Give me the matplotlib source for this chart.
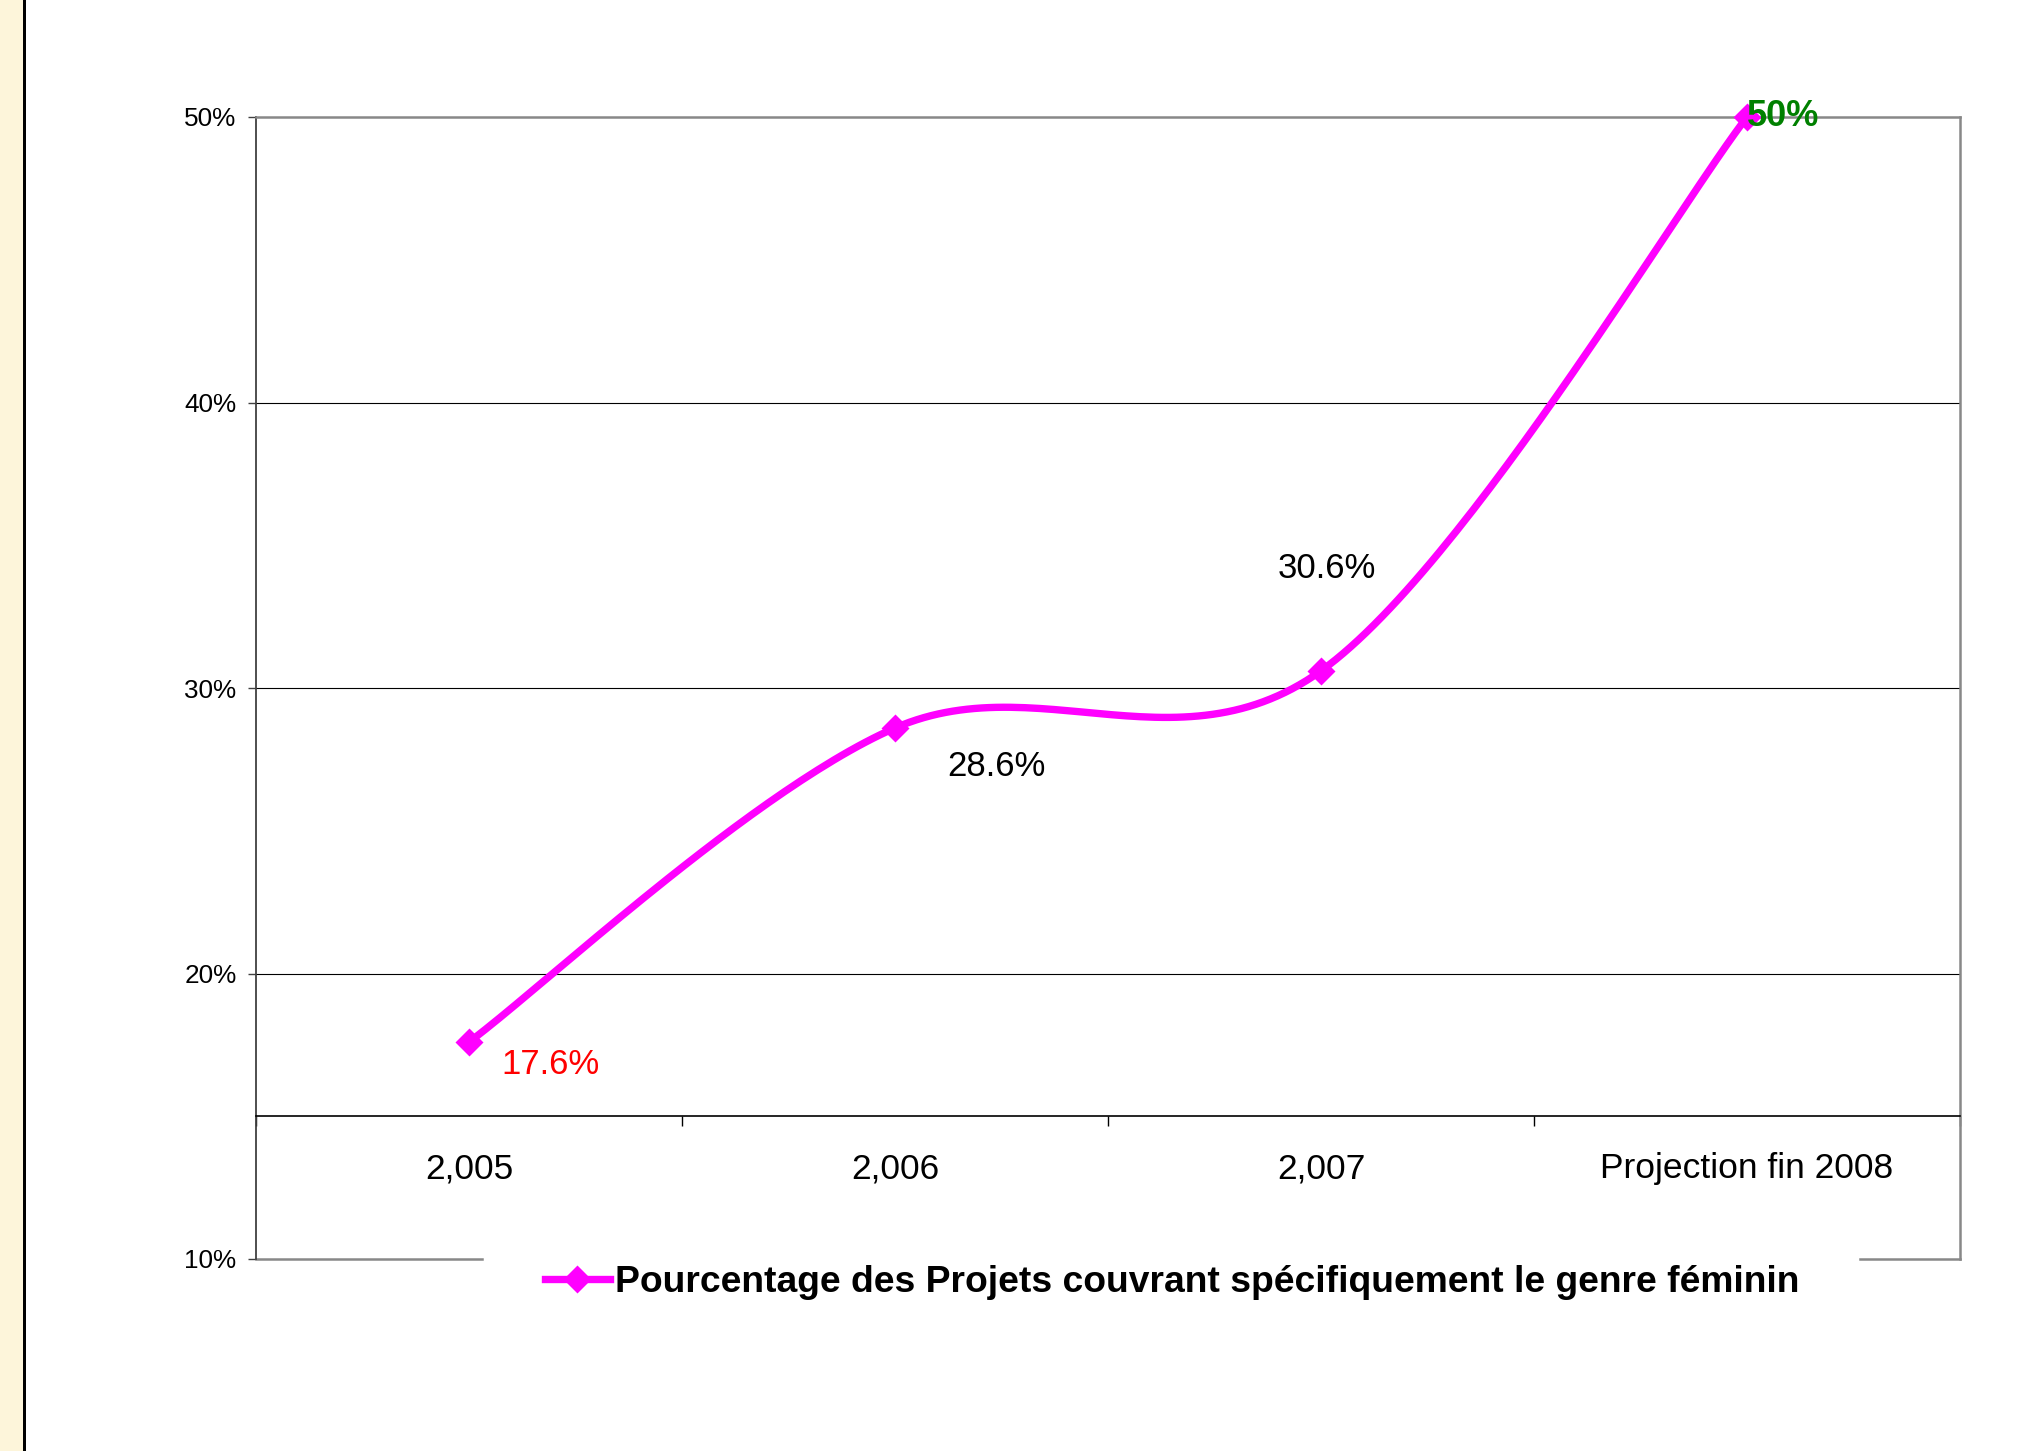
import numpy as np
import matplotlib
matplotlib.use("Agg")
import matplotlib.pyplot as plt
from matplotlib.lines import Line2D
from matplotlib.patches import Rectangle

plt.rcParams['font.family'] = ['Liberation Sans', 'DejaVu Sans']

# données
categories = ["2,005", "2,006", "2,007", "Projection fin 2008"]
valeurs = [17.6, 28.6, 30.6, 50.0]
etiquettes = ["17.6%", "28.6%", "30.6%", "50%"]
couleurs_etiq = ["#FF0000", "#000000", "#000000", "#008000"]
yticks = [10, 20, 30, 40, 50]
serie = "Pourcentage des Projets couvrant spécifiquement le genre féminin"


def lissage(xs, ys, n=60):
    # courbe lissée façon Excel (Bezier de Catmull-Rom)
    pts = np.column_stack([xs, ys]).astype(float)
    out = []
    for i in range(len(pts) - 1):
        p0 = pts[i - 1] if i > 0 else pts[i]
        p1, p2 = pts[i], pts[i + 1]
        p3 = pts[i + 2] if i + 2 < len(pts) else pts[i + 1]
        c1 = p1 + (p2 - p0) / 6
        c2 = p2 - (p3 - p1) / 6
        t = np.linspace(0, 1, n)[:, None]
        seg = (1 - t) ** 3 * p1 + 3 * (1 - t) ** 2 * t * c1 + 3 * (1 - t) * t ** 2 * c2 + t ** 3 * p2
        out.append(seg if i == 0 else seg[1:])
    return np.vstack(out)


def main():
    W, H = 2039, 1451
    fig = plt.figure(figsize=(W / 100, H / 100), dpi=100)
    fig.patch.set_facecolor("white")

    # bande crème à gauche
    fig.patches.append(Rectangle((0, 0), 23 / W, 1, transform=fig.transFigure,
                                 facecolor="#FDF5DA", edgecolor="none"))
    fig.patches.append(Rectangle((23 / W, 0), 2.5 / W, 1, transform=fig.transFigure,
                                 facecolor="black", edgecolor="none"))

    ax = fig.add_axes([256 / W, 1 - 1259 / H, (1960 - 256) / W, (1259 - 117) / H])
    x = np.arange(len(categories))
    ax.set_xlim(-0.5, len(categories) - 0.5)
    ax.set_ylim(10, 50)

    # grille
    for g in [20, 30, 40]:
        ax.axhline(g, color="black", lw=0.8, zorder=1)

    # bordures
    ax.spines['left'].set_color("#404040")
    ax.spines['left'].set_linewidth(1.3)
    ax.spines['top'].set_color("#888888")
    ax.spines['top'].set_linewidth(1.8)
    ax.spines['right'].set_color("#888888")
    ax.spines['right'].set_linewidth(1.8)
    # axe des x croisant à 15%
    ax.spines['bottom'].set_position(('data', 15))
    ax.spines['bottom'].set_color("black")
    ax.spines['bottom'].set_linewidth(1.2)
    # bordure basse grise interrompue par la légende
    ax.axhline(10, xmin=0, xmax=0.1326, color="#888888", lw=1.8, clip_on=False)
    ax.axhline(10, xmin=0.9413, xmax=1, color="#888888", lw=1.8, clip_on=False)

    ax.set_yticks(yticks)
    ax.set_yticklabels(["%d%%" % v for v in yticks], fontsize=18.8)
    ax.tick_params(axis='y', direction='out', length=6, width=1, color="#404040", pad=8)

    ax.set_xticks(np.arange(len(categories) + 1) - 0.5)
    ax.set_xticklabels([])
    ax.tick_params(axis='x', which='major', direction='out', length=7, width=1, color="black")
    ax.set_xticks(x, minor=True)
    ax.set_xticklabels(categories, minor=True, fontsize=25.5)
    ax.tick_params(axis='x', which='minor', length=0, pad=26)

    courbe = lissage(x, valeurs)
    ax.plot(courbe[:, 0], courbe[:, 1], color="#FF00FF", lw=5.3, solid_capstyle='round',
            zorder=3, clip_on=False)
    ax.plot(x, valeurs, ls="none", marker="D", ms=14.5, mec="none", color="#FF00FF",
            zorder=4, clip_on=False)

    # étiquettes de données
    decal = [(59, -16, 'center'), (73, -28, 'center'), (4, 74, 'center'), (0, 0, 'left')]
    for xi, v, lab, c, (dx, dy, ha) in zip(x, valeurs, etiquettes, couleurs_etiq, decal):
        ax.annotate(lab, (xi, v), xytext=(dx, dy), textcoords="offset points",
                    ha=ha, va="center", fontsize=26 if c == "#008000" else 25,
                    color=c, fontweight="bold" if c == "#008000" else "normal", zorder=5)

    h = Line2D([], [], color="#FF00FF", lw=5.3, marker="D", ms=14.5, mec="none")
    ax.legend([h], [serie], loc="center", bbox_to_anchor=(0.5376, -0.0205),
              frameon=False, handlelength=1.75, handletextpad=0.15,
              prop={'size': 26.8, 'weight': 'bold'})

    fig.savefig("out.png", dpi=100, facecolor=fig.get_facecolor())


if __name__ == '__main__':
    main()
